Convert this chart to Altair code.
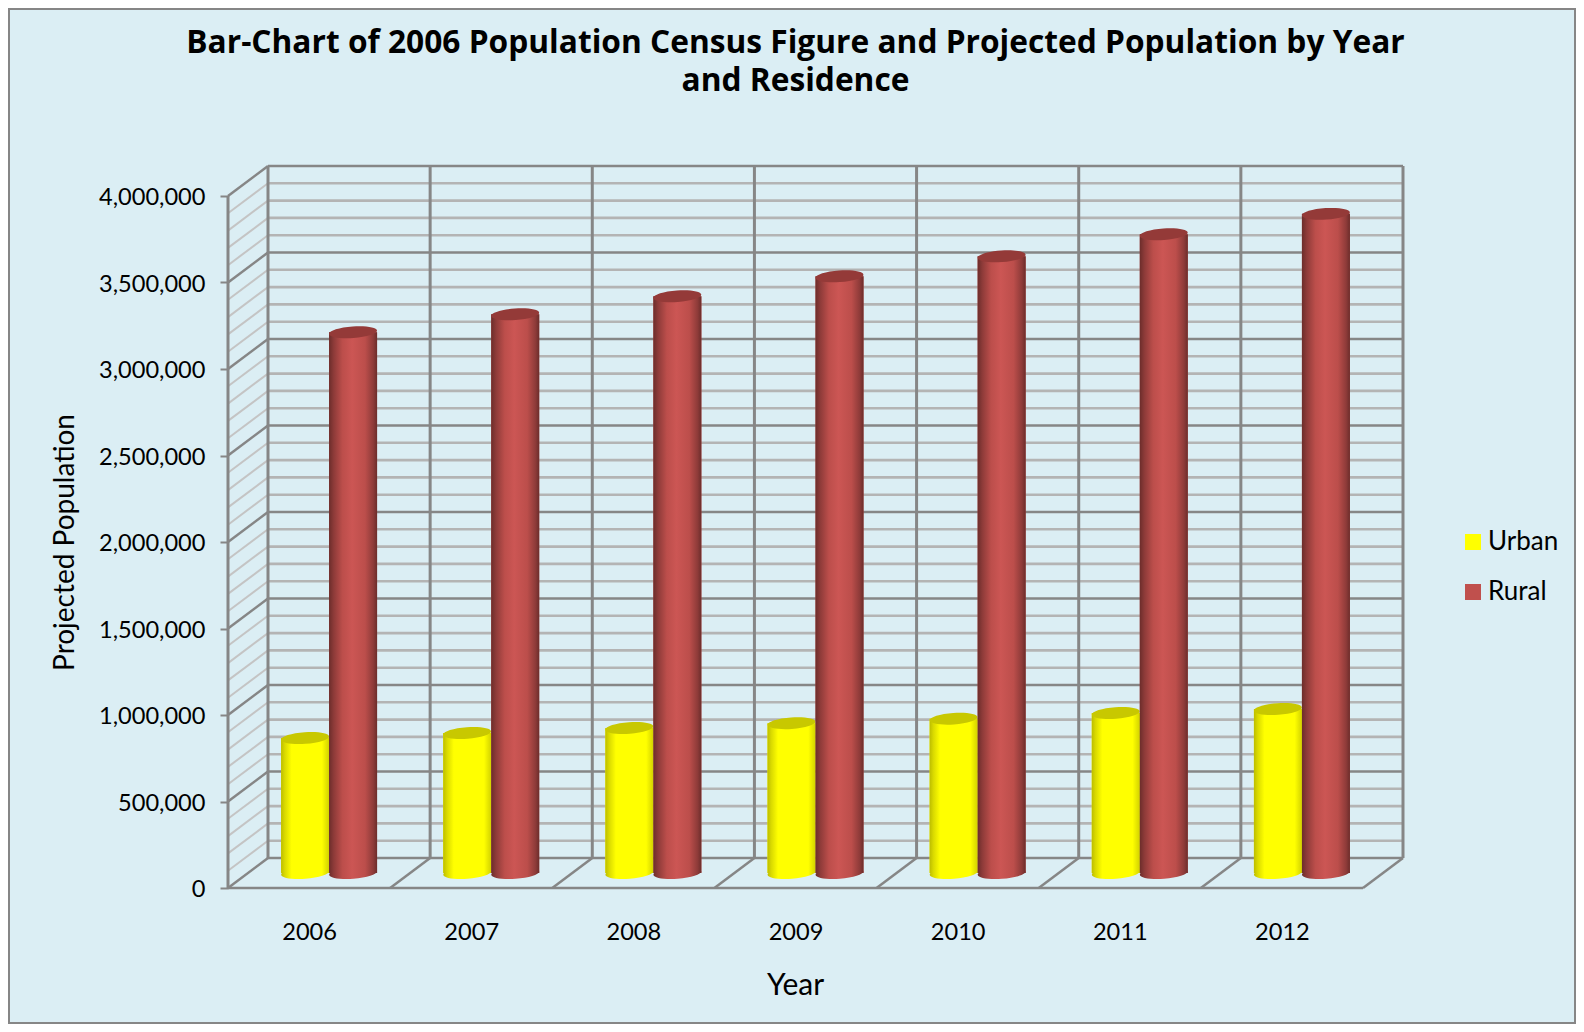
import math
import altair as alt
import pandas as pd

years = [2006, 2007, 2008, 2009, 2010, 2011, 2012]
urban = [780000, 809000, 838000, 866000, 892000, 925000, 948000]
rural = [3126000, 3230000, 3334000, 3449000, 3565000, 3692000, 3810000]
series_names = ["Urban", "Rural"]
legend_colors = ["#FFFF00", "#C0504D"]
top_colors = {"Urban": "#C8C800", "Rural": "#943A38"}
major_ticks = list(range(0, 4000001, 500000))
minor_ticks = [v for v in range(0, 4000001, 100000) if v % 500000]

FONT = "Lato"
GRID_MAJOR = "#868686"
GRID_MINOR = "#B4B4B4"
GRID_SIDE = "#C4C4C4"

# plot-area size and the oblique depth of the 3-D box, in scale units
W, H = 1175, 722
N = len(years)
DX = 40 / (1135 / N)
DY = 30 / 692 * 4000000
BAR = 48 / (1135 / N)
x_scale = alt.Scale(domain=[0, N + DX], range=[0, W], nice=False, zero=False)
y_scale = alt.Scale(domain=[0, 4000000 + DY], nice=False, zero=False)

x_axis = alt.Axis(
    values=[i + 0.5 for i in range(N)], labelExpr="2006 + floor(datum.value)",
    ticks=False, domain=False, grid=False, labelPadding=32, labelFont=FONT, labelFontSize=23.6,
    labelColor="#000000", titleFont=FONT, titleFontSize=30, titleFontWeight="normal",
    titleColor="#000000", titleX=567, titleY=97, titleBaseline="middle", labelFlush=False)
y_axis = alt.Axis(
    values=major_ticks, format=",d", tickSize=8, tickWidth=2, tickColor=GRID_MAJOR, domain=False,
    grid=False, labelPadding=15, labelFont=FONT, labelFontSize=23.6, labelColor="#000000", labelOffset=1.5,
    titleFont=FONT, titleFontSize=28, titleFontWeight="normal", titleColor="#000000",
    titleX=-163, titleY=376, titleAngle=-90, titleBaseline="middle")


def XX(field):
    return alt.X(field, scale=x_scale, title="Year", axis=x_axis)


def YY(field):
    return alt.Y(field, scale=y_scale, title="Projected Population", axis=y_axis)


def segs(items):
    rows = []
    for k, (x1, y1, x2, y2) in enumerate(items):
        rows.append({"seg": k, "x": x1, "y": y1})
        rows.append({"seg": k, "x": x2, "y": y2})
    return pd.DataFrame(rows)


major_h = [(DX, v + DY, N + DX, v + DY) for v in major_ticks] + [(0, 0, N, 0)]
major_diag = [(0, v, DX, v + DY) for v in major_ticks] + [(i, 0, i + DX, DY) for i in range(1, N + 1)]
verticals = [(i + DX, DY, i + DX, 4000000 + DY) for i in range(N + 1)] + [(0, 0, 0, 4000000)]
minor_h = [(DX, v + DY, N + DX, v + DY) for v in minor_ticks]
minor_diag = [(0, v, DX, v + DY) for v in minor_ticks]


def line_layer(items, color, width):
    return alt.Chart(segs(items)).mark_line(color=color, strokeWidth=width).encode(
        x=XX("x:Q"), y=YY("y:Q"), detail="seg:N")


def ellipse_path(b=0.24, deg=-4.0):
    t = math.radians(deg)
    k = 0.5523
    pts = [(-1, 0), (-1, -k * b), (-k, -b), (0, -b), (k, -b), (1, -k * b), (1, 0),
           (1, k * b), (k, b), (0, b), (-k, b), (-1, k * b), (-1, 0)]
    r = [(x * math.cos(t) - y * math.sin(t), x * math.sin(t) + y * math.cos(t)) for x, y in pts]
    s = f"M{r[0][0]:.4f},{r[0][1]:.4f}"
    for i in range(1, 13, 3):
        s += " C" + " ".join(f"{a:.4f},{c:.4f}" for a, c in r[i:i + 3])
    return s + " Z"


ELLIPSE = ellipse_path()
rows = []
for i, yr in enumerate(years):
    cx = i + 0.5 + DX / 2
    rows.append({"year": yr, "series": "Urban", "x0": cx - BAR, "x1": cx, "xc": cx - BAR / 2,
                 "base": DY / 2, "top": urban[i] + DY / 2})
    rows.append({"year": yr, "series": "Rural", "x0": cx, "x1": cx + BAR, "xc": cx + BAR / 2,
                 "base": DY / 2, "top": rural[i] + DY / 2})
bars = pd.DataFrame(rows)


def grad(stops):
    return alt.Gradient(gradient="linear", x1=0, x2=1, y1=0, y2=0,
                        stops=[alt.GradientStop(offset=o, color=c) for o, c in stops])


gradients = {
    "Urban": grad([(0, "#BDBD00"), (0.08, "#DADA00"), (0.22, "#FFFF00"), (0.85, "#FFFF00"), (1, "#D2D200")]),
    "Rural": grad([(0, "#6C2D2B"), (0.1, "#8E3B39"), (0.28, "#BC4E4B"), (0.48, "#CC5654"),
                   (0.75, "#BC4E4B"), (0.92, "#8E3B39"), (1, "#6C2D2B")]),
}

solid = alt.Chart(bars).mark_rect().encode(
    x=XX("x0:Q"), x2="x1:Q", y=YY("base:Q"), y2="top:Q",
    color=alt.Color("series:N", scale=alt.Scale(domain=series_names, range=legend_colors), title=None,
                    legend=alt.Legend(orient="none", legendX=1232, legendY=363, symbolType="square",
                                      symbolSize=256, rowPadding=24, labelFont=FONT, labelFontSize=26,
                                      labelColor="#000000", labelOffset=2, symbolStrokeWidth=0)),
)

layers = [
    line_layer(minor_diag, GRID_SIDE, 2),
    line_layer(minor_h, GRID_MINOR, 2.6),
    line_layer(major_diag, GRID_MAJOR, 2.5),
    line_layer(major_h, GRID_MAJOR, 2.5),
    line_layer(verticals, GRID_MAJOR, 3),
]
for name in series_names:
    sub = bars[bars.series == name]
    layers.append(alt.Chart(sub).mark_point(shape=ELLIPSE, size=48 * 48, filled=True, opacity=1,
                                            color=gradients[name]).encode(
        x=XX("xc:Q"), y=YY("base:Q")))
layers.append(solid)
for name in series_names:
    sub = bars[bars.series == name]
    layers.append(alt.Chart(sub).mark_rect(color=gradients[name]).encode(
        x=XX("x0:Q"), x2="x1:Q", y=YY("base:Q"), y2="top:Q"))
    layers.append(alt.Chart(sub).mark_point(shape=ELLIPSE, size=48 * 48, filled=True, opacity=1,
                                            color=top_colors[name]).encode(
        x=XX("xc:Q"), y=YY("top:Q")))

frame_df = pd.DataFrame({"x": [0.0]})
frame = alt.Chart(frame_df).mark_rect(fill=None, stroke=GRID_MAJOR, strokeWidth=2).encode(
    x=alt.value(-219), x2=alt.value(1347), y=alt.value(-157), y2=alt.value(857))
layers.append(frame)

chart = alt.layer(*layers).resolve_scale(color="independent").properties(
    width=W, height=H,
    background="#DBEEF4",
    padding={"left": 220, "top": 158, "right": 173, "bottom": 136},
    autosize=alt.AutoSizeParams(type="none"),
    title=alt.TitleParams(
        text=["Bar-Chart of 2006 Population Census Figure and Projected Population by Year", "and Residence"],
        font="Open Sans", fontSize=31.7, fontWeight="bold", color="#000000", anchor="middle", frame="group",
        dx=-20, offset=-89.5, lineHeight=38),
).configure_view(stroke=None)

chart.save("out.html", embed_options={"renderer": "svg", "actions": False})
